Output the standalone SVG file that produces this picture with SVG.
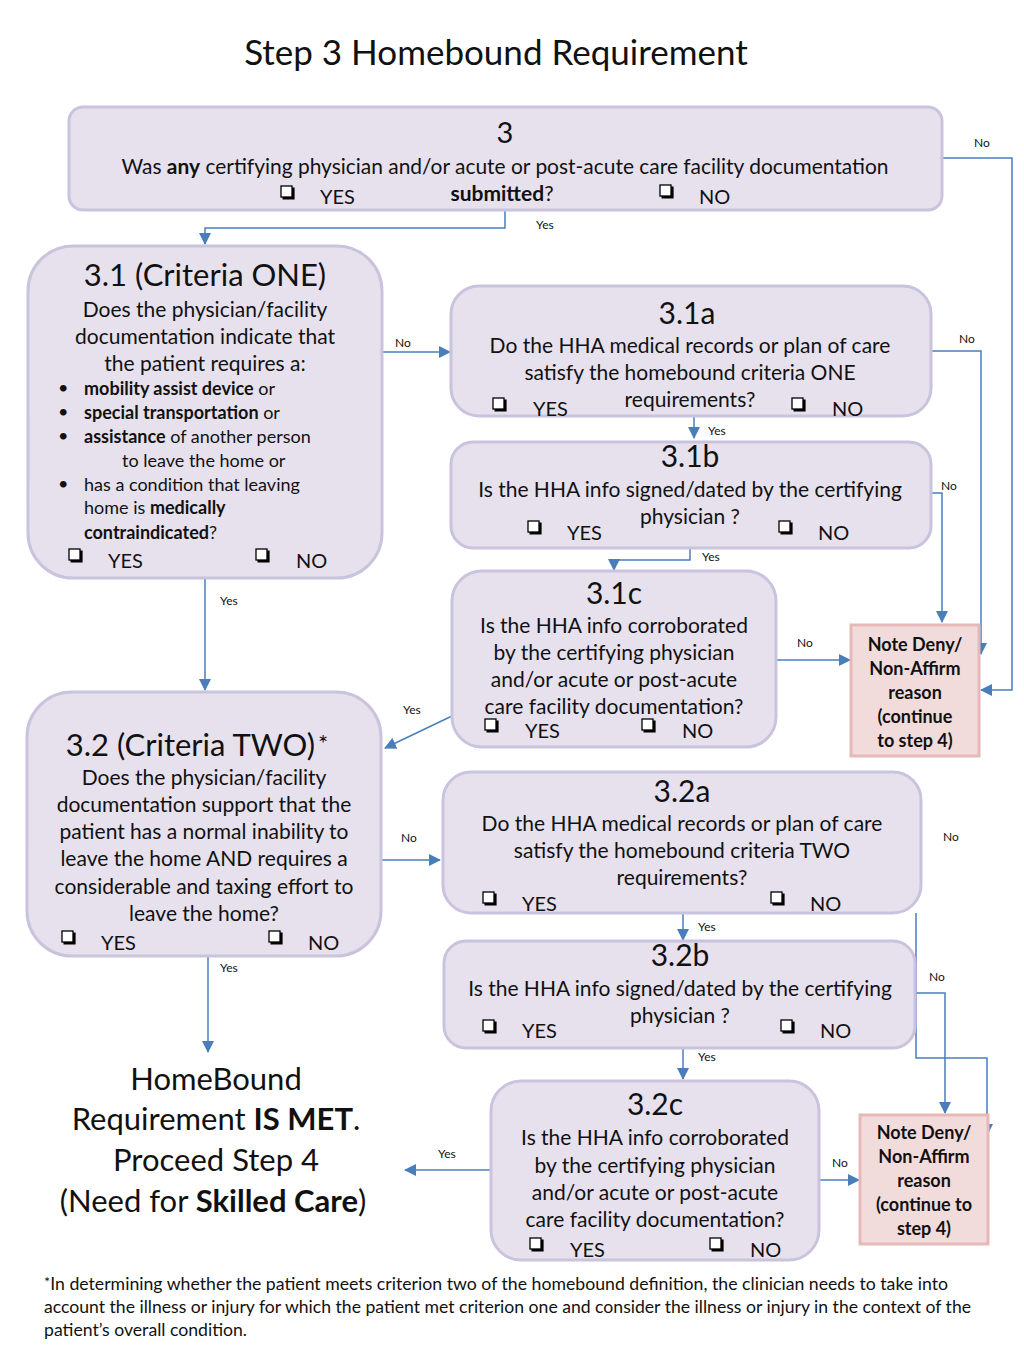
<svg xmlns="http://www.w3.org/2000/svg" width="1024" height="1365" viewBox="0 0 1024 1365">
<defs>
<marker id="arr" markerUnits="userSpaceOnUse" markerWidth="12" markerHeight="12" viewBox="0 0 12 12" refX="11" refY="6" orient="auto">
<path d="M0,0 L12,6 L0,12 Z" fill="#4a7ebb"/>
</marker>
<g id="cbx">
<rect x="0" y="0" width="11" height="11" fill="#ffffff" stroke="#000" stroke-width="1.3"/>
<path d="M1.5,12.3 H12.3 V1.5" fill="none" stroke="#000" stroke-width="2.6"/>
</g>
<style>
text{font-family:Lato,"Open Sans","Liberation Sans",sans-serif;fill:#111;}
.box{fill:#e6e1ed;stroke:#c9c3de;stroke-width:3;}
.note{fill:#f2dcdb;stroke:#e6b9b8;stroke-width:3;}
.c{text-anchor:middle;}
.hd{font-size:31px;}
.q{font-size:21px;}
.yn{font-size:20px;}
.lbl{font-size:12px;}
.nt{font-size:18px;font-weight:bold;text-anchor:middle;}
.b{font-weight:bold;}
.ca{fill:none;stroke:#4a7ebb;stroke-width:1.5;marker-end:url(#arr);}
</style>
</defs>
<rect width="1024" height="1365" fill="#ffffff"/>
<text x="496" y="65" class="c" style="font-size:35px">Step 3 Homebound Requirement</text>

<g id="connectors">
<path class="ca" d="M505,211 V228 H205 V244"/>
<path class="ca" d="M943,158 H1012 V690 H981"/>
<path class="ca" d="M383,352 H450"/>
<path class="ca" d="M205,579 V690"/>
<path class="ca" d="M694,417 V438"/>
<path class="ca" d="M932,351 H981 V654"/>
<path class="ca" d="M932,493 H942 V622"/>
<path class="ca" d="M690,549 V560 H614 V570"/>
<path class="ca" d="M777,660 H850"/>
<path class="ca" d="M452,716 L385,748"/>
<path class="ca" d="M382,860 H440"/>
<path class="ca" d="M208,957 V1052"/>
<path class="ca" d="M683,914 V940"/>
<path class="ca" d="M916,913 V1058 H987 V1135"/>
<path class="ca" d="M916,993 H945 V1113"/>
<path class="ca" d="M683,1049 V1079"/>
<path class="ca" d="M490,1170 H405"/>
<path class="ca" d="M820,1180 H859"/>
<text x="536" y="229" class="lbl">Yes</text>
<text x="974" y="147" class="lbl">No</text>
<text x="395" y="347" class="lbl">No</text>
<text x="220" y="605" class="lbl">Yes</text>
<text x="708" y="435" class="lbl">Yes</text>
<text x="959" y="343" class="lbl">No</text>
<text x="941" y="490" class="lbl">No</text>
<text x="702" y="561" class="lbl">Yes</text>
<text x="797" y="647" class="lbl">No</text>
<text x="403" y="714" class="lbl">Yes</text>
<text x="401" y="842" class="lbl">No</text>
<text x="220" y="972" class="lbl">Yes</text>
<text x="698" y="931" class="lbl">Yes</text>
<text x="943" y="841" class="lbl">No</text>
<text x="929" y="981" class="lbl">No</text>
<text x="698" y="1061" class="lbl">Yes</text>
<text x="438" y="1158" class="lbl">Yes</text>
<text x="832" y="1167" class="lbl">No</text>
</g>

<g id="node-3">
<rect class="box" x="69" y="107" width="873" height="103" rx="14"/>
<text x="505" y="143" class="c" style="font-size:29px">3</text>
<text x="505" y="174" class="c q" textLength="767" lengthAdjust="spacingAndGlyphs">Was <tspan class="b">any</tspan> certifying physician and/or acute or post-acute care facility documentation</text>
<use href="#cbx" x="281" y="186"/><text x="320" y="204" class="yn">YES</text>
<text x="502" y="201" class="c q"><tspan class="b">submitted</tspan>?</text>
<use href="#cbx" x="660" y="185"/><text x="699" y="204" class="yn">NO</text>
</g>

<g id="node-3-1">
<rect class="box" x="28" y="246" width="354" height="332" rx="45"/>
<text x="205" y="286" class="c hd">3.1 (Criteria ONE)</text>
<text x="205" y="317" class="c q">Does the physician/facility</text>
<text x="205" y="344" class="c q">documentation indicate that</text>
<text x="205" y="371" class="c q">the patient requires a:</text>
<g style="font-size:18px">
<text x="58" y="394">•</text><text x="84" y="395"><tspan class="b">mobility assist device</tspan> or</text>
<text x="58" y="418">•</text><text x="84" y="419"><tspan class="b">special transportation</tspan> or</text>
<text x="58" y="442">•</text><text x="84" y="443"><tspan class="b">assistance</tspan> of another person</text>
<text x="122" y="467">to leave the home or</text>
<text x="58" y="490">•</text><text x="84" y="491">has a condition that leaving</text>
<text x="84" y="514">home is <tspan class="b">medically</tspan></text>
<text x="84" y="539"><tspan class="b">contraindicated</tspan>?</text>
</g>
<use href="#cbx" x="69" y="549"/><text x="108" y="568" class="yn">YES</text>
<use href="#cbx" x="256" y="549"/><text x="296" y="568" class="yn">NO</text>
</g>

<g id="node-3-1a">
<rect class="box" x="451" y="286" width="480" height="130" rx="28"/>
<text x="687" y="324" class="c" style="font-size:30px">3.1a</text>
<text x="690" y="353" class="c q">Do the HHA medical records or plan of care</text>
<text x="690" y="380" class="c q">satisfy the homebound criteria ONE</text>
<text x="690" y="407" class="c q">requirements?</text>
<use href="#cbx" x="493" y="398"/><text x="533" y="416" class="yn">YES</text>
<use href="#cbx" x="792" y="398"/><text x="832" y="416" class="yn">NO</text>
</g>

<g id="node-3-1b">
<rect class="box" x="451" y="442" width="480" height="106" rx="22"/>
<text x="690" y="467" class="c" style="font-size:30px">3.1b</text>
<text x="690" y="497" class="c q">Is the HHA info signed/dated by the certifying</text>
<text x="690" y="524" class="c q">physician ?</text>
<use href="#cbx" x="528" y="521"/><text x="567" y="540" class="yn">YES</text>
<use href="#cbx" x="779" y="521"/><text x="818" y="540" class="yn">NO</text>
</g>

<g id="node-3-1c">
<rect class="box" x="452" y="571" width="324" height="176" rx="30"/>
<text x="614" y="604" class="c" style="font-size:30px">3.1c</text>
<text x="614" y="633" class="c q">Is the HHA info corroborated</text>
<text x="614" y="660" class="c q">by the certifying physician</text>
<text x="614" y="687" class="c q">and/or acute or post-acute</text>
<text x="614" y="714" class="c q">care facility documentation?</text>
<use href="#cbx" x="485" y="719"/><text x="525" y="738" class="yn">YES</text>
<use href="#cbx" x="642" y="719"/><text x="682" y="738" class="yn">NO</text>
</g>

<g id="node-deny-1">
<rect class="note" x="851" y="625" width="128" height="131"/>
<text x="915" y="651" class="nt">Note Deny/</text>
<text x="915" y="675" class="nt">Non-Affirm</text>
<text x="915" y="699" class="nt">reason</text>
<text x="915" y="723" class="nt">(continue</text>
<text x="915" y="747" class="nt">to step 4)</text>
</g>

<g id="node-3-2">
<rect class="box" x="27" y="692" width="354" height="264" rx="45"/>
<text x="197" y="756" class="c hd">3.2 (Criteria TWO)<tspan dx="3" dy="-4" style="font-size:24px">*</tspan></text>
<text x="204" y="785" class="c q">Does the physician/facility</text>
<text x="204" y="812" class="c q">documentation support that the</text>
<text x="204" y="839" class="c q">patient has a normal inability to</text>
<text x="204" y="866" class="c q">leave the home AND requires a</text>
<text x="204" y="894" class="c q">considerable and taxing effort to</text>
<text x="204" y="921" class="c q">leave the home?</text>
<use href="#cbx" x="62" y="931"/><text x="101" y="950" class="yn">YES</text>
<use href="#cbx" x="269" y="931"/><text x="308" y="950" class="yn">NO</text>
</g>

<g id="node-3-2a">
<rect class="box" x="443" y="772" width="478" height="141" rx="28"/>
<text x="682" y="802" class="c" style="font-size:30px">3.2a</text>
<text x="682" y="831" class="c q">Do the HHA medical records or plan of care</text>
<text x="682" y="858" class="c q">satisfy the homebound criteria TWO</text>
<text x="682" y="885" class="c q">requirements?</text>
<use href="#cbx" x="483" y="892"/><text x="522" y="911" class="yn">YES</text>
<use href="#cbx" x="771" y="892"/><text x="810" y="911" class="yn">NO</text>
</g>

<g id="node-3-2b">
<rect class="box" x="444" y="941" width="471" height="107" rx="22"/>
<text x="680" y="966" class="c" style="font-size:30px">3.2b</text>
<text x="680" y="996" class="c q">Is the HHA info signed/dated by the certifying</text>
<text x="680" y="1023" class="c q">physician ?</text>
<use href="#cbx" x="483" y="1020"/><text x="522" y="1038" class="yn">YES</text>
<use href="#cbx" x="781" y="1020"/><text x="820" y="1038" class="yn">NO</text>
</g>

<g id="node-3-2c">
<rect class="box" x="491" y="1081" width="328" height="179" rx="30"/>
<text x="655" y="1115" class="c" style="font-size:30px">3.2c</text>
<text x="655" y="1145" class="c q">Is the HHA info corroborated</text>
<text x="655" y="1173" class="c q">by the certifying physician</text>
<text x="655" y="1200" class="c q">and/or acute or post-acute</text>
<text x="655" y="1227" class="c q">care facility documentation?</text>
<use href="#cbx" x="530" y="1238"/><text x="570" y="1257" class="yn">YES</text>
<use href="#cbx" x="710" y="1238"/><text x="750" y="1257" class="yn">NO</text>
</g>

<g id="node-deny-2">
<rect class="note" x="860" y="1115" width="128" height="129"/>
<text x="924" y="1139" class="nt">Note Deny/</text>
<text x="924" y="1163" class="nt">Non-Affirm</text>
<text x="924" y="1187" class="nt">reason</text>
<text x="924" y="1211" class="nt">(continue to</text>
<text x="924" y="1235" class="nt">step 4)</text>
</g>

<g id="node-met">
<text x="216" y="1090" class="c" style="font-size:31px">HomeBound</text>
<text x="216" y="1130" class="c" style="font-size:31px">Requirement <tspan class="b">IS MET</tspan>.</text>
<text x="216" y="1171" class="c" style="font-size:31px">Proceed Step 4</text>
<text x="213" y="1212" class="c" style="font-size:31px">(Need for <tspan class="b">Skilled Care</tspan>)</text>
</g>

<g id="footnote" style="font-size:17px">
<text x="44" y="1290" textLength="904" lengthAdjust="spacingAndGlyphs"><tspan dy="-3" style="font-size:14px">*</tspan><tspan dy="3">In determining whether the patient meets criterion two of the homebound definition, the clinician needs to take into</tspan></text>
<text x="44" y="1313" textLength="927" lengthAdjust="spacingAndGlyphs">account the illness or injury for which the patient met criterion one and consider the illness or injury in the context of the</text>
<text x="44" y="1336" textLength="203" lengthAdjust="spacingAndGlyphs">patient’s overall condition.</text>
</g>
</svg>
